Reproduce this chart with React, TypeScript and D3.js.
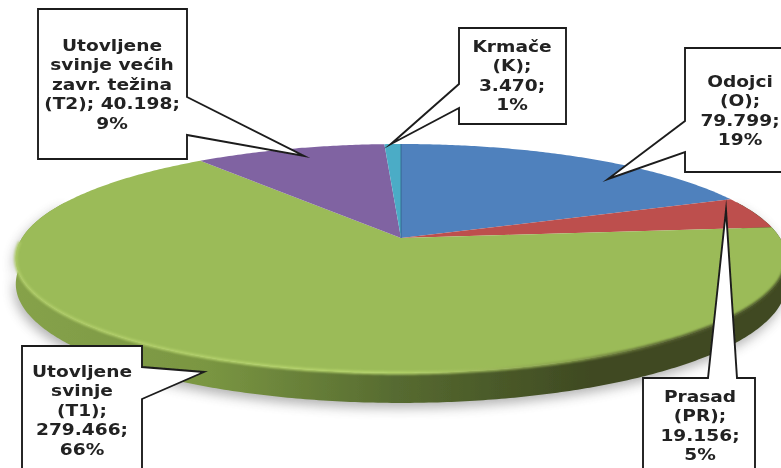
import React from "react";
import * as d3 from "d3";

const categories = ["Odojci (O)", "Prasad (PR)", "Utovljene svinje (T1)", "Utovljene svinje većih zavr. težina (T2)", "Krmače (K)"];
const values = [79799, 19156, 279466, 40198, 3470];
const colors = ["#4f81bd", "#bd504d", "#9bbb59", "#8064a2", "#4bacc6"];
const labelLines = [
  ["Odojci", "(O);", "79.799;", "19%"],
  ["Prasad", "(PR);", "19.156;", "5%"],
  ["Utovljene", "svinje", "(T1);", "279.466;", "66%"],
  ["Utovljene", "svinje većih", "zavr. težina", "(T2); 40.198;", "9%"],
  ["Krmače", "(K);", "3.470;", "1%"],
];

const W = 781, H = 468;
const CX = 401, CY = 238, B = 379, A = 110.8, K = 0.179, DEPTH = 24.6;

// Perspective projection of the pie's unit disc onto the page
const project = (theta: number, r = 1, drop = 0): [number, number] => {
  const u = r * Math.sin(theta), v = r * Math.cos(theta);
  const w = 1 + K * v;
  return [CX + (B * u) / w, CY - (A * v) / w + drop / w];
};
const line = d3.line<[number, number]>().x(d => d[0]).y(d => d[1]).curve(d3.curveLinear);
const arcPts = (a0: number, a1: number, drop = 0) => {
  const n = Math.max(2, Math.ceil(Math.abs(a1 - a0) / 0.01));
  return d3.range(n + 1).map(i => project(a0 + ((a1 - a0) * i) / n, 1, drop));
};

const slices = d3.pie<number>().sort(null)(values);
const rad = (d: number) => (d * Math.PI) / 180;

type Box = { x: number; y: number; w: number; h: number; side: "l" | "r" | "t"; p0: number; p1: number; tip: [number, number]; textY: number };
const boxes: Box[] = [
  { x: 685, y: 48, w: 120, h: 124, side: "l", p0: 121, p1: 152, tip: [608, 179], textY: 87 },
  { x: 643, y: 378, w: 112, h: 110, side: "t", p0: 708, p1: 737, tip: [726, 210], textY: 402 },
  { x: 22, y: 346, w: 120, h: 140, side: "r", p0: 367, p1: 399, tip: [204, 372], textY: 377 },
  { x: 38, y: 9, w: 149, h: 150, side: "r", p0: 97, p1: 135, tip: [304, 156], textY: 51 },
  { x: 459, y: 28, w: 107, h: 96, side: "l", p0: 84, p1: 108, tip: [391, 144], textY: 52 },
];
const boxCentreX = [740, 700, 82, 112, 512];

const calloutPath = (b: Box) => {
  const r = b.x + b.w, bt = b.y + b.h;
  const path = d3.path();
  path.moveTo(b.x, b.y);
  if (b.side === "t") {
    path.lineTo(b.p0, b.y); path.lineTo(b.tip[0], b.tip[1]); path.lineTo(b.p1, b.y);
  }
  path.lineTo(r, b.y);
  if (b.side === "r") {
    path.lineTo(r, b.p0); path.lineTo(b.tip[0], b.tip[1]); path.lineTo(r, b.p1);
  }
  path.lineTo(r, bt);
  path.lineTo(b.x, bt);
  if (b.side === "l") {
    path.lineTo(b.x, b.p1); path.lineTo(b.tip[0], b.tip[1]); path.lineTo(b.x, b.p0);
  }
  path.closePath();
  return path.toString();
};

export default function App() {
  const wall = arcPts(rad(70), rad(290)).concat(arcPts(rad(290), rad(70), DEPTH));
  const rim = arcPts(rad(100), rad(268));
  return (
    <svg width={W} height={H} viewBox={`0 0 ${W} ${H}`} style={{ position: "absolute", left: 0, top: 0, background: "#fff" }}>
      <defs>
        <linearGradient id="wall" gradientUnits="userSpaceOnUse" x1={16} x2={781} y1={0} y2={0}>
          <stop offset="0" stopColor="#86a24a" />
          <stop offset="0.25" stopColor="#7a9642" />
          <stop offset="0.5" stopColor="#566a30" />
          <stop offset="0.75" stopColor="#3f4a22" />
          <stop offset="1" stopColor="#3f4a22" />
        </linearGradient>
        <linearGradient id="rim" gradientUnits="userSpaceOnUse" x1={16} x2={781} y1={0} y2={0}>
          <stop offset="0" stopColor="#aecb68" />
          <stop offset="0.5" stopColor="#b6d56c" />
          <stop offset="0.72" stopColor="#88a04c" />
          <stop offset="0.85" stopColor="#555f30" />
          <stop offset="1" stopColor="#4a5528" />
        </linearGradient>
        <filter id="sh" x="-10%" y="-20%" width="120%" height="140%"><feGaussianBlur stdDeviation="6" /></filter>
        <filter id="soft" x="-5%" y="-5%" width="110%" height="110%"><feGaussianBlur stdDeviation="1.1" /></filter>
        <filter id="fine" x="-5%" y="-5%" width="110%" height="110%"><feGaussianBlur stdDeviation="0.5" /></filter>
      </defs>
      <path d={line(wall) ?? ""} transform="translate(-2,5)" fill="#555" opacity={0.45} filter="url(#sh)" />
      <g filter="url(#fine)">
        <path d={line(wall) + "Z"} fill="url(#wall)" />
        {slices.map((s, i) => {
          const pts = arcPts(s.startAngle, s.endAngle);
          return <path key={categories[i]} d={line([[CX, CY], ...pts]) + "Z"} fill={colors[i]} />;
        })}
        <path d={line([[CX, CY], project(slices[4].endAngle)]) ?? ""} stroke="#2f5f86" strokeWidth={0.8} fill="none" />
      </g>
      <path d={line(rim) ?? ""} fill="none" stroke="url(#rim)" strokeWidth={3} filter="url(#soft)" />
      <g filter="url(#fine)">
        {boxes.map((b, i) => (
          <g key={categories[i]}>
            <path d={calloutPath(b)} fill="#fff" stroke="#1c1c1c" strokeWidth={1.9} strokeLinejoin="miter" strokeMiterlimit={30} />
            {labelLines[i].map((t, j) => (
              <text key={j} transform={`translate(${boxCentreX[i]},${b.textY + j * 19.4}) scale(1.2,1)`} textAnchor="middle"
                fontFamily="'DejaVu Sans', Verdana, sans-serif" fontWeight={700} fontSize={15.5} fill="#222">{t}</text>
            ))}
          </g>
        ))}
      </g>
    </svg>
  );
}
